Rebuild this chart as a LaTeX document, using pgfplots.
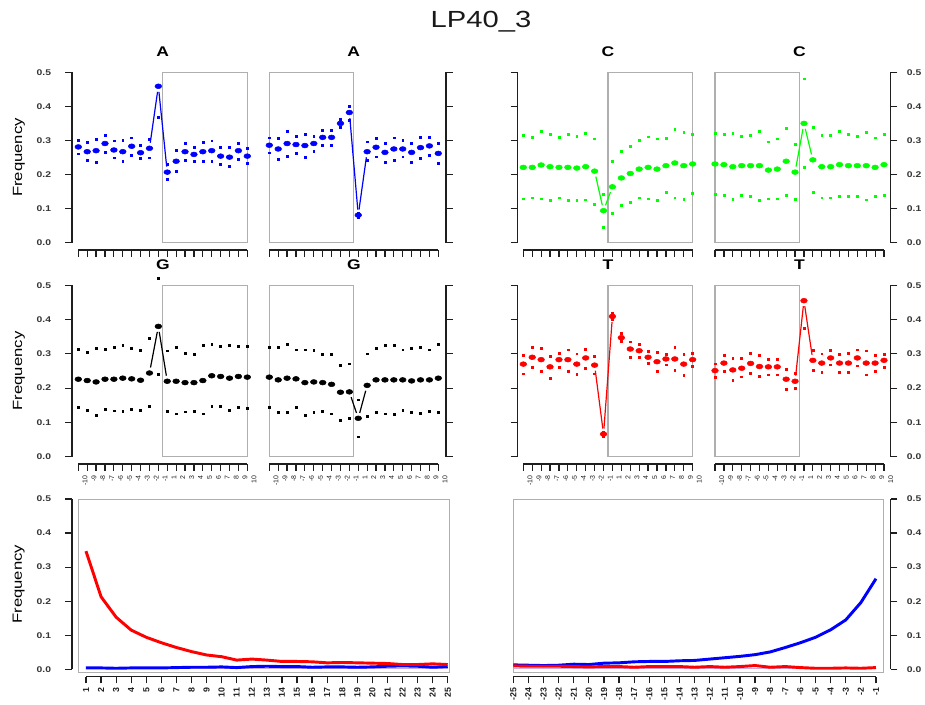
\documentclass[border=0pt]{standalone}
\usepackage{fontspec}
\setmainfont{Liberation Sans}[FakeStretch=1.25]
\newfontfamily\rotfont{Liberation Sans}
\usepackage{pgfplots}
\pgfplotsset{compat=1.18}
\usepackage{pgfplotstable}

\definecolor{boxgray}{RGB}{175,175,175}
\definecolor{axblack}{RGB}{30,30,30}
\definecolor{lav}{RGB}{200,170,230}

% ---------- data: x(1..20) main lower upper ----------
\pgfplotstableread{
x m lo hi
1 0.281 0.261 0.301
2 0.267 0.242 0.295
3 0.270 0.237 0.303
4 0.291 0.265 0.315
5 0.272 0.249 0.299
6 0.267 0.238 0.300
7 0.283 0.256 0.308
8 0.264 0.248 0.285
9 0.277 0.249 0.303
10 0.459 0.367 nan
11 0.207 0.185 0.230
12 0.239 0.210 0.270
13 0.267 0.243 0.292
14 0.259 0.240 0.279
15 0.267 0.240 0.295
16 0.270 0.240 0.299
17 0.254 0.230 0.280
18 0.251 0.223 0.280
19 0.270 0.246 0.292
20 0.254 0.232 0.277
}\Afive
\pgfplotstableread{
x m lo hi
1 0.286 0.264 0.308
2 0.275 0.245 0.306
3 0.291 0.254 0.327
4 0.288 0.263 0.312
5 0.285 0.251 0.319
6 0.291 0.267 0.313
7 0.309 0.287 0.331
8 0.309 0.287 0.331
9 0.350 0.339 0.363
10 0.382 0.360 0.401
11 0.081 0.075 0.088
12 0.267 0.243 0.296
13 0.280 0.252 0.306
14 0.265 0.236 0.292
15 0.275 0.243 0.308
16 0.275 0.252 0.301
17 0.265 0.236 0.292
18 0.279 0.248 0.310
19 0.284 0.256 0.310
20 0.262 0.233 0.292
}\Athree
\pgfplotstableread{
x m lo hi
1 0.221 0.129 0.316
2 0.221 0.132 0.309
3 0.228 0.129 0.328
4 0.223 0.125 0.318
5 0.221 0.132 0.309
6 0.221 0.125 0.318
7 0.219 0.125 0.313
8 0.223 0.126 0.321
9 0.210 0.114 0.305
10 0.094 0.046 0.143
11 0.164 0.086 0.239
12 0.190 0.110 0.269
13 0.203 0.119 0.284
14 0.216 0.132 0.301
15 0.221 0.129 0.311
16 0.216 0.125 0.305
17 0.226 0.148 0.307
18 0.234 0.132 0.334
19 0.226 0.128 0.325
20 0.231 0.145 0.318
}\Cfive
\pgfplotstableread{
x m lo hi
1 0.231 0.143 0.321
2 0.229 0.138 0.318
3 0.223 0.127 0.321
4 0.226 0.139 0.313
5 0.226 0.135 0.316
6 0.226 0.125 0.328
7 0.213 0.129 0.296
8 0.216 0.129 0.305
9 0.239 0.139 0.337
10 0.207 0.127 0.290
11 0.350 0.221 0.481
12 0.243 0.148 0.338
13 0.223 0.132 0.316
14 0.223 0.132 0.316
15 0.229 0.135 0.328
16 0.226 0.135 0.319
17 0.226 0.137 0.313
18 0.226 0.126 0.325
19 0.221 0.135 0.308
20 0.229 0.139 0.318
}\Cthree
\pgfplotstableread{
x m lo hi
1 0.226 0.143 0.314
2 0.222 0.135 0.304
3 0.218 0.121 0.316
4 0.226 0.138 0.314
5 0.226 0.134 0.318
6 0.229 0.132 0.324
7 0.227 0.138 0.317
8 0.223 0.136 0.310
9 0.244 0.146 0.346
10 0.380 0.241 0.520
11 0.220 0.133 0.309
12 0.220 0.125 0.319
13 0.216 0.131 0.302
14 0.216 0.132 0.298
15 0.222 0.125 0.324
16 0.236 0.146 0.327
17 0.234 0.146 0.322
18 0.229 0.135 0.324
19 0.234 0.145 0.322
20 0.232 0.142 0.321
}\Gfive
\pgfplotstableread{
x m lo hi
1 0.232 0.143 0.320
2 0.224 0.129 0.320
3 0.229 0.129 0.329
4 0.227 0.143 0.312
5 0.216 0.122 0.312
6 0.218 0.129 0.311
7 0.216 0.133 0.298
8 0.211 0.125 0.298
9 0.188 0.105 0.266
10 0.189 0.111 0.271
11 0.112 0.058 0.166
12 0.208 0.117 0.300
13 0.224 0.129 0.317
14 0.224 0.125 0.324
15 0.224 0.123 0.326
16 0.224 0.136 0.312
17 0.221 0.129 0.316
18 0.224 0.127 0.319
19 0.224 0.132 0.312
20 0.229 0.130 0.328
}\Gthree
\pgfplotstableread{
x m lo hi
1 0.270 0.242 0.297
2 0.290 0.260 0.318
3 0.283 0.249 0.316
4 0.262 0.229 0.292
5 0.283 0.261 0.302
6 0.283 0.250 0.312
7 0.270 0.240 0.300
8 0.288 0.258 0.314
9 0.267 0.242 0.292
10 0.066 0.060 0.072
11 0.409 0.400 0.419
12 0.347 0.336 0.359
13 0.314 0.290 0.335
14 0.309 0.289 0.327
15 0.290 0.272 0.307
16 0.277 0.250 0.305
17 0.285 0.268 0.299
18 0.285 0.253 0.320
19 0.270 0.238 0.299
20 0.283 0.263 0.302
}\Tfive
\pgfplotstableread{
x m lo hi
1 0.251 0.231 0.271
2 0.273 0.249 0.297
3 0.253 0.224 0.286
4 0.258 0.233 0.287
5 0.272 0.244 0.302
6 0.263 0.234 0.296
7 0.262 0.239 0.285
8 0.262 0.239 0.285
9 0.226 0.197 0.255
10 0.220 0.199 0.243
11 0.455 0.375 nan
12 0.281 0.251 0.310
13 0.273 0.247 0.300
14 0.288 0.268 0.310
15 0.273 0.246 0.299
16 0.273 0.246 0.302
17 0.288 0.265 0.312
18 0.273 0.239 0.309
19 0.273 0.250 0.297
20 0.281 0.260 0.299
}\Tthree
% ---------- misincorporation curves ----------
\pgfplotstableread{
x ct ga lo
1 0.347 0.004 0.002
2 0.213 0.004 0.002
3 0.153 0.003 0.002
4 0.115 0.004 0.002
5 0.094 0.004 0.002
6 0.078 0.004 0.002
7 0.064 0.005 0.002
8 0.052 0.006 0.002
9 0.042 0.006 0.002
10 0.037 0.007 0.002
11 0.027 0.005 0.002
12 0.030 0.008 0.002
13 0.027 0.009 0.002
14 0.023 0.008 0.002
15 0.023 0.008 0.002
16 0.022 0.006 0.002
17 0.019 0.007 0.002
18 0.020 0.007 0.002
19 0.019 0.006 0.002
20 0.018 0.007 0.002
21 0.017 0.009 0.002
22 0.014 0.010 0.002
23 0.014 0.009 0.002
24 0.016 0.006 0.002
25 0.014 0.008 0.002
}\Lfive
\pgfplotstableread{
x ga ct lo
-25 0.013 0.010 0.002
-24 0.012 0.009 0.002
-23 0.011 0.009 0.002
-22 0.012 0.009 0.002
-21 0.015 0.008 0.002
-20 0.014 0.007 0.002
-19 0.018 0.008 0.002
-18 0.019 0.008 0.002
-17 0.022 0.006 0.002
-16 0.023 0.008 0.002
-15 0.023 0.008 0.002
-14 0.025 0.008 0.002
-13 0.026 0.006 0.002
-12 0.030 0.008 0.002
-11 0.034 0.006 0.002
-10 0.038 0.008 0.002
-9 0.043 0.011 0.002
-8 0.051 0.006 0.002
-7 0.064 0.008 0.002
-6 0.078 0.005 0.002
-5 0.094 0.003 0.002
-4 0.116 0.003 0.002
-3 0.145 0.004 0.002
-2 0.196 0.003 0.002
-1 0.266 0.005 0.002
}\Lthree

\pgfplotsset{
  rbase/.style={
    scale only axis, clip=false,
    /pgf/number format/assume math mode=true,
    ymin=0, ymax=0.5,
    ytick={0,0.1,0.2,0.3,0.4,0.5},
    yticklabels={0.0,0.1,0.2,0.3,0.4,0.5},
    axis line style={-, line width=0.9pt, draw=axblack},
    tick style={line width=0.9pt, color=axblack},
    tick align=outside,
    major tick length=5pt,
    axis x line*=bottom,
    axis x line shift=5.5pt,
    yticklabel style={font=\bfseries\fontsize{6.2}{7}\selectfont, text=axblack!90},
    xticklabel style={font=\rotfont\fontsize{5.2}{5.2}\selectfont, text=axblack, rotate=90, anchor=east},
    title style={font=\bfseries\fontsize{10.5}{12}\selectfont, at={(0.5,1)}, anchor=center, yshift=9.2pt},
    ylabel style={font=\rotfont\fontsize{8.2}{9}\selectfont, text=axblack},
  },
  small/.style={rbase, xmin=1, xmax=20, xtick={1,...,20}},
  leftax/.style={axis y line*=left, yticklabel style={xshift=-7.2pt},
     every axis y label/.style={at={(rel axis cs:0,0.5)}, xshift=#1, rotate=90, anchor=center}},
  rightax/.style={axis y line*=right, yticklabel style={xshift=3.7pt}},
  nolab/.style={yticklabels={}},
  row1/.style={xticklabels={}},
  row2/.style={xticklabels={-10,-9,-8,-7,-6,-5,-4,-3,-2,-1,1,2,3,4,5,6,7,8,9,10}, xticklabel style={yshift=-5pt}},
  mainpt/.style={only marks, mark=*, mark size=1.8pt, mark options={xscale=1.4, draw=none, fill=#1}, color=#1},
  cipt/.style={only marks, mark=square*, mark size=0.7pt, mark options={draw=none, fill=#1}, color=#1},
  seg/.style={no marks, color=#1, line width=0.9pt, shorten <=4.2pt, shorten >=4.2pt},
  bottomlab/.style={xticklabel style={font=\rotfont\bfseries\fontsize{6.6}{7}\selectfont}},
}

\newcommand{\panel}[3]{% table, colour, first segment start
  \addplot[cipt=#2] table[x=x, y=lo] {#1};
  \addplot[cipt=#2] table[x=x, y=hi] {#1};
  \pgfmathtruncatemacro{\sa}{#3}\pgfmathtruncatemacro{\sb}{#3+1}\pgfmathtruncatemacro{\sc}{#3+2}
  \addplot[seg=#2, restrict x to domain=\sa:\sb] table[x=x, y=m] {#1};
  \addplot[seg=#2, restrict x to domain=\sb:\sc] table[x=x, y=m] {#1};
  \addplot[mainpt=#2] table[x=x, y=m] {#1};
}

\begin{document}
\begin{tikzpicture}
\path[use as bounding box] (0pt,0pt) rectangle (693.75pt,528pt);
\node[font=\fontsize{17.5}{20}\selectfont, text=black!90] at (360.75pt,511.5pt) {LP40\_3};

% ---------------- row 1 ----------------
\begin{axis}[small, row1, leftax=-44.5pt, ylabel={Frequency}, title={A},
  at={(58.73pt,345.98pt)}, anchor=south west, width=126.75pt, height=127.8pt, axis y line shift=4.7pt]
  \draw[boxgray, line width=0.8pt] (axis cs:10.5,0) rectangle (axis cs:20,0.5);
  \panel{\Afive}{blue}{9}
\end{axis}
\begin{axis}[small, row1, rightax, nolab, title={A},
  at={(201.98pt,345.98pt)}, anchor=south west, width=126.75pt, height=127.8pt, axis y line shift=5.8pt]
  \draw[boxgray, line width=0.8pt] (axis cs:1,0) rectangle (axis cs:10.5,0.5);
  \panel{\Athree}{blue}{10}
\end{axis}
\begin{axis}[small, row1, leftax=0pt, nolab, title={C},
  at={(392.48pt,345.98pt)}, anchor=south west, width=127pt, height=127.8pt, axis y line shift=4.5pt]
  \draw[boxgray, line width=0.8pt] (axis cs:10.5,0) rectangle (axis cs:20,0.5);
  \panel{\Cfive}{green}{9}
\end{axis}
\begin{axis}[small, row1, rightax, title={C},
  at={(536.25pt,345.98pt)}, anchor=south west, width=126.75pt, height=127.8pt, axis y line shift=5pt]
  \draw[boxgray, line width=0.8pt] (axis cs:1,0) rectangle (axis cs:10.5,0.5);
  \panel{\Cthree}{green}{10}
\end{axis}

% ---------------- row 2 ----------------
\begin{axis}[small, row2, leftax=-44.5pt, ylabel={Frequency}, title={G},
  at={(58.73pt,185.48pt)}, anchor=south west, width=126.75pt, height=128.6pt, axis y line shift=4.7pt]
  \draw[boxgray, line width=0.8pt] (axis cs:10.5,0) rectangle (axis cs:20,0.5);
  \panel{\Gfive}{black}{9}
\end{axis}
\begin{axis}[small, row2, rightax, nolab, title={G},
  at={(201.98pt,185.48pt)}, anchor=south west, width=126.75pt, height=128.6pt, axis y line shift=5.8pt]
  \draw[boxgray, line width=0.8pt] (axis cs:1,0) rectangle (axis cs:10.5,0.5);
  \panel{\Gthree}{black}{10}
\end{axis}
\begin{axis}[small, row2, leftax=0pt, nolab, title={T},
  at={(392.48pt,185.48pt)}, anchor=south west, width=127pt, height=128.6pt, axis y line shift=4.5pt]
  \draw[boxgray, line width=0.8pt] (axis cs:10.5,0) rectangle (axis cs:20,0.5);
  \panel{\Tfive}{red}{9}
\end{axis}
\begin{axis}[small, row2, rightax, title={T},
  at={(536.25pt,185.48pt)}, anchor=south west, width=126.75pt, height=128.6pt, axis y line shift=5pt]
  \draw[boxgray, line width=0.8pt] (axis cs:1,0) rectangle (axis cs:10.5,0.5);
  \panel{\Tthree}{red}{10}
\end{axis}

% ---------------- row 3 ----------------
\begin{axis}[rbase, bottomlab, leftax=-50.5pt, ylabel={Frequency},
  xmin=1, xmax=25, xtick={1,...,25},
  at={(64.5pt,26.03pt)}, anchor=south west, width=271.3pt, height=127.7pt, axis y line shift=10.5pt]
  \draw[boxgray, line width=0.8pt] (axis cs:0.52,-0.01) rectangle (axis cs:25.09,0.5);
  \addplot[no marks, lav, line width=1.2pt] table[x=x, y=lo] {\Lfive};
  \addplot[no marks, blue, line width=2.2pt] table[x=x, y=ga] {\Lfive};
  \addplot[no marks, red, line width=2.2pt] table[x=x, y=ct] {\Lfive};
\end{axis}
\begin{axis}[rbase, bottomlab, rightax,
  xmin=-25, xmax=-1, xtick={-25,...,-1},
  xticklabels={-25,-24,-23,-22,-21,-20,-19,-18,-17,-16,-15,-14,-13,-12,-11,-10,-9,-8,-7,-6,-5,-4,-3,-2,-1},
  at={(384.98pt,26.03pt)}, anchor=south west, width=272pt, height=127.7pt, axis y line shift=11pt]
  \draw[boxgray, line width=0.8pt] (axis cs:-25,-0.01) rectangle (axis cs:-0.52,0.5);
  \addplot[no marks, lav, line width=1.2pt] table[x=x, y=lo] {\Lthree};
  \addplot[no marks, blue, line width=2.2pt] table[x=x, y=ga] {\Lthree};
  \addplot[no marks, red, line width=2.2pt] table[x=x, y=ct] {\Lthree};
\end{axis}
\end{tikzpicture}
\end{document}
